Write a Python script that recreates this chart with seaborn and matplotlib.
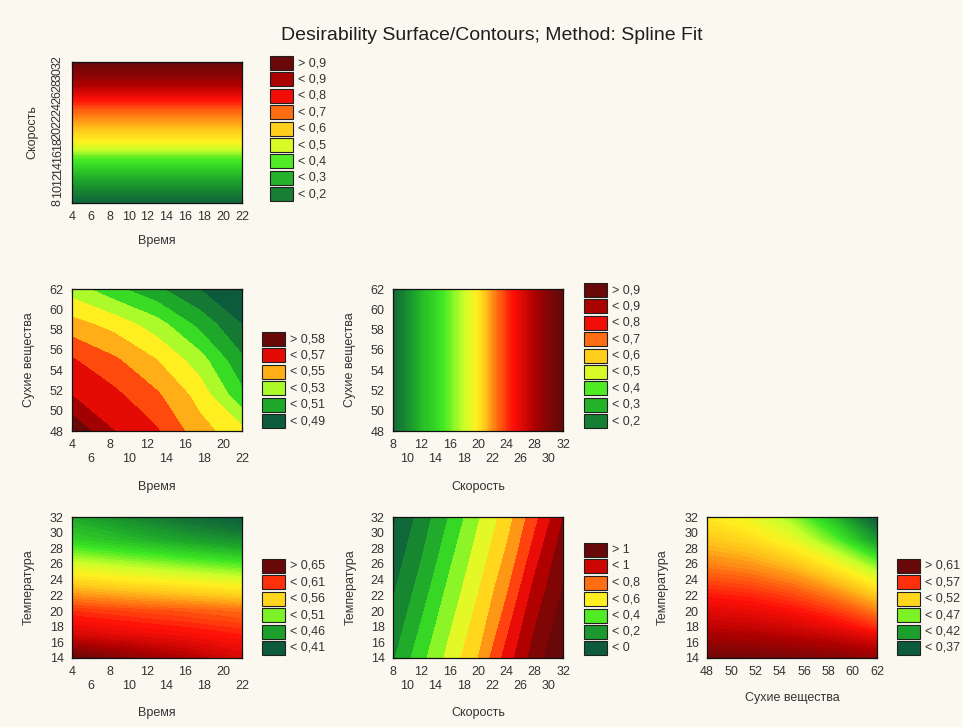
import numpy as np
import matplotlib
matplotlib.use("Agg")
import matplotlib.pyplot as plt
from matplotlib.colors import LinearSegmentedColormap, Normalize
from matplotlib.patches import Rectangle
import seaborn as sns

# ---------------------------------------------------------------- data
# factor grids (nodes at which the fitted desirability was read)
time_nodes = [4, 22]
time_nodes_5 = [4, 8.5, 13, 17.5, 22]
time_nodes_4 = [4, 10, 16, 22]
speed_nodes = [8, 10, 12, 14, 16, 18, 20, 22, 24, 26, 28, 30, 32]
speed_nodes_7 = [8, 12, 16, 20, 24, 28, 32]
dry_nodes_2 = [48, 62]
dry_nodes_5 = [48, 51.5, 55, 58.5, 62]
temp_nodes_7 = [14, 17, 20, 23, 26, 29, 32]
temp_nodes_3 = [14, 23, 32]
temp_nodes_6 = [14, 18, 22, 26, 29, 32]

# desirability vs speed (time held / dry matter held)
speed_desir_time = [0.08, 0.16, 0.23, 0.30, 0.37, 0.48, 0.55, 0.61, 0.67, 0.75, 0.84, 0.90, 0.95]
speed_desir_dry = [0.10, 0.18, 0.26, 0.31, 0.37, 0.43, 0.51, 0.62, 0.70, 0.77, 0.845, 0.91, 0.97]

# desirability: time (cols) x dry matter (rows)
desir_time_dry = [
    [0.588, 0.570, 0.561, 0.544, 0.533],
    [0.570, 0.5625, 0.5516, 0.5363, 0.5127],
    [0.561, 0.5516, 0.540, 0.5245, 0.5018],
    [0.544, 0.5363, 0.5245, 0.507, 0.4899],
    [0.525, 0.5127, 0.5018, 0.4899, 0.478],
]

# desirability: time (cols) x temperature (rows)
desir_time_temp = [
    [0.660, 0.643, 0.627, 0.610],
    [0.610, 0.603, 0.597, 0.590],
    [0.585, 0.579, 0.574, 0.568],
    [0.545, 0.537, 0.530, 0.522],
    [0.505, 0.495, 0.485, 0.475],
    [0.462, 0.450, 0.437, 0.425],
    [0.440, 0.422, 0.403, 0.385],
]

# desirability: speed (cols) x temperature (rows)
desir_speed_temp = [
    [0.085, 0.266, 0.435, 0.599, 0.841, 1.050, 1.200],
    [-0.018, 0.140, 0.327, 0.488, 0.676, 0.928, 1.102],
    [-0.120, 0.037, 0.207, 0.386, 0.546, 0.764, 0.998],
]

# desirability: dry matter (cols) x temperature (rows)
desir_dry_temp = [
    [0.615, 0.614, 0.611, 0.607, 0.600],
    [0.580, 0.577, 0.571, 0.561, 0.545],
    [0.552, 0.548, 0.539, 0.523, 0.500],
    [0.522, 0.516, 0.503, 0.480, 0.445],
    [0.502, 0.493, 0.475, 0.441, 0.392],
    [0.485, 0.474, 0.450, 0.408, 0.345],
]

# legend entries (label, band value)
leg_speed_labels = ["> 0,9", "< 0,9", "< 0,8", "< 0,7", "< 0,6", "< 0,5", "< 0,4", "< 0,3", "< 0,2"]
leg_speed_values = [0.95, 0.85, 0.75, 0.65, 0.55, 0.45, 0.35, 0.25, 0.15]
leg_td_labels = ["> 0,58", "< 0,57", "< 0,55", "< 0,53", "< 0,51", "< 0,49"]
leg_td_values = [0.585, 0.565, 0.545, 0.525, 0.505, 0.485]
leg_tt_labels = ["> 0,65", "< 0,61", "< 0,56", "< 0,51", "< 0,46", "< 0,41"]
leg_tt_values = [0.66, 0.585, 0.535, 0.485, 0.435, 0.385]
leg_st_labels = ["> 1", "< 1", "< 0,8", "< 0,6", "< 0,4", "< 0,2", "< 0"]
leg_st_values = [1.1, 0.9, 0.7, 0.5, 0.3, 0.1, -0.1]
leg_dt_labels = ["> 0,61", "< 0,57", "< 0,52", "< 0,47", "< 0,42", "< 0,37"]
leg_dt_values = [0.62, 0.545, 0.495, 0.445, 0.395, 0.345]

# tick labels
time_ticks = [4, 6, 8, 10, 12, 14, 16, 18, 20, 22]
speed_ticks = [8, 10, 12, 14, 16, 18, 20, 22, 24, 26, 28, 30, 32]
dry_ticks = [48, 50, 52, 54, 56, 58, 60, 62]
temp_ticks = [14, 16, 18, 20, 22, 24, 26, 28, 30, 32]

TITLE = "Desirability Surface/Contours; Method: Spline Fit"
LBL_TIME = "Время"
LBL_SPEED = "Скорость"
LBL_DRY = "Сухие вещества"
LBL_TEMP = "Температура"

# ---------------------------------------------------------------- style
W, H = 963, 727
BG = "#fbf8ef"
TXT = "#333333"

sns.set_theme(style="ticks", rc={
    "axes.edgecolor": "#111111",
    "axes.linewidth": 0.9,
    "figure.facecolor": BG,
    "savefig.facecolor": BG,
})
plt.rcParams["font.family"] = ["Liberation Sans", "DejaVu Sans"]

SPECTRUM = LinearSegmentedColormap.from_list("desirability", [
    (0.00, "#0d5b3d"),
    (0.10, "#157a34"),
    (0.20, "#1ea82a"),
    (0.32, "#3ee824"),
    (0.42, "#c8ff2a"),
    (0.50, "#fff020"),
    (0.58, "#ffc21a"),
    (0.67, "#ff6a12"),
    (0.76, "#ff1008"),
    (0.88, "#b00000"),
    (1.00, "#680808"),
])

fig = plt.figure(figsize=(W / 100, H / 100), dpi=100, facecolor=BG)


def px_axes(left, top, right, bottom):
    return fig.add_axes([left / W, 1 - bottom / H, (right - left) / W, (bottom - top) / H])


def tick_text(ticks, stagger):
    out = []
    for i, t in enumerate(ticks):
        out.append(("\n" + str(t)) if (stagger and i % 2 == 1) else str(t))
    return out


def panel(rect, xs, ys, z, levels, vmin, vmax, xticks, yticks, xlabel, ylabel,
          stagger, xlab_y, ylab_x, rot_y=False):
    ax = px_axes(*rect)
    X, Y = np.meshgrid(xs, ys)
    norm = Normalize(vmin=vmin, vmax=vmax, clip=True)
    ax.contourf(X, Y, np.asarray(z, dtype=float), levels=levels, cmap=SPECTRUM,
                norm=norm, antialiased=False)
    ax.set_xlim(xs[0], xs[-1])
    ax.set_ylim(ys[0], ys[-1])
    ax.set_xticks(xticks)
    ax.set_xticklabels(tick_text(xticks, stagger))
    ax.set_yticks(yticks)
    ax.set_yticklabels([str(t) for t in yticks])
    ax.tick_params(axis="both", direction="in", length=3, width=0.8, color="#111111",
                   labelsize=9, labelcolor=TXT, top=True, right=True)
    ax.tick_params(axis="x", pad=6)
    ax.tick_params(axis="y", pad=6)
    if rot_y:
        for lab in ax.get_yticklabels():
            lab.set_rotation(90)
            lab.set_va("center")
    ax.set_xlabel(xlabel, fontsize=9, color=TXT)
    ax.set_ylabel(ylabel, fontsize=9, color=TXT)
    ax.xaxis.set_label_coords(0.5, xlab_y)
    ax.yaxis.set_label_coords(ylab_x, 0.5)
    for s in ax.spines.values():
        s.set_visible(True)
    return norm


def legend_boxes(x0, y0, labels, values, norm, pitch=16.4, h=14, w=23):
    for i, (lab, v) in enumerate(zip(labels, values)):
        y = y0 + i * pitch
        fig.patches.append(Rectangle((x0 / W, 1 - (y + h) / H), w / W, h / H,
                                     transform=fig.transFigure,
                                     facecolor=SPECTRUM(norm(v)),
                                     edgecolor="#202020", linewidth=0.8))
        fig.text((x0 + w + 5) / W, 1 - (y + h / 2) / H, lab, ha="left", va="center",
                 fontsize=9, color=TXT)


# title
fig.text(492 / W, 1 - 36 / H, TITLE, ha="center", va="center", fontsize=14, color="#1e1e1e")

# row 1: time x speed
speed_col = np.asarray(speed_desir_time)[:, None]
n1 = panel((72, 62, 242, 203), time_nodes, speed_nodes, np.hstack([speed_col, speed_col]),
           np.arange(0.0, 1.01, 0.01), 0.05, 0.95, time_ticks, speed_ticks,
           LBL_TIME, LBL_SPEED, False, -0.227, -0.20, rot_y=True)
legend_boxes(270, 56, leg_speed_labels, leg_speed_values, n1)

# row 2: time x dry matter, speed x dry matter
n2 = panel((72, 289, 242, 431), time_nodes_5, dry_nodes_5, desir_time_dry,
           np.arange(0.47, 0.605, 0.01), 0.485, 0.585, time_ticks, dry_ticks,
           LBL_TIME, LBL_DRY, True, -0.352, -0.218)
legend_boxes(262, 332, leg_td_labels, leg_td_values, n2)

speed_row = np.asarray(speed_desir_dry)[None, :]
n3 = panel((393, 289, 563, 431), speed_nodes, dry_nodes_2, np.vstack([speed_row, speed_row]),
           np.arange(0.0, 1.01, 0.01), 0.05, 0.95, speed_ticks, dry_ticks,
           LBL_SPEED, LBL_DRY, True, -0.352, -0.218)
legend_boxes(584, 283, leg_speed_labels, leg_speed_values, n3)

# row 3: time x temperature, speed x temperature, dry matter x temperature
n4 = panel((72, 517, 242, 658), time_nodes_4, temp_nodes_7, desir_time_temp,
           np.arange(0.37, 0.675, 0.005), 0.385, 0.66, time_ticks, temp_ticks,
           LBL_TIME, LBL_TEMP, True, -0.348, -0.218)
legend_boxes(262, 559, leg_tt_labels, leg_tt_values, n4)

n5 = panel((393, 517, 563, 658), speed_nodes_7, temp_nodes_3, desir_speed_temp,
           np.arange(-0.2, 1.31, 0.1), -0.1, 1.1, speed_ticks, temp_ticks,
           LBL_SPEED, LBL_TEMP, True, -0.348, -0.212)
legend_boxes(584, 543, leg_st_labels, leg_st_values, n5)

n6 = panel((707, 517, 877, 658), dry_nodes_5, temp_nodes_6, desir_dry_temp,
           np.arange(0.33, 0.63, 0.004), 0.345, 0.62, dry_ticks, temp_ticks,
           LBL_DRY, LBL_TEMP, False, -0.241, -0.224)
legend_boxes(897, 559, leg_dt_labels, leg_dt_values, n6)

fig.savefig("out.png", dpi=100, facecolor=BG)
